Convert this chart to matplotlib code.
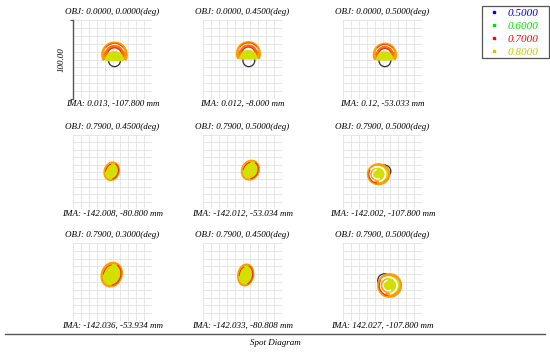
import numpy as np
import matplotlib
matplotlib.use('Agg')
import matplotlib.pyplot as plt
from matplotlib.patches import Wedge, Ellipse, Circle, Arc, Rectangle
from matplotlib.lines import Line2D

# ---------------- dados ----------------
obj_labels = ['OBJ: 0.0000, 0.0000(deg)', 'OBJ: 0.0000, 0.4500(deg)', 'OBJ: 0.0000, 0.5000(deg)',
              'OBJ: 0.7900, 0.4500(deg)', 'OBJ: 0.7900, 0.5000(deg)', 'OBJ: 0.7900, 0.5000(deg)',
              'OBJ: 0.7900, 0.3000(deg)', 'OBJ: 0.7900, 0.4500(deg)', 'OBJ: 0.7900, 0.5000(deg)']
ima_labels = ['IMA: 0.013, -107.800 mm', 'IMA: 0.012, -8.000 mm', 'IMA: 0.12, -53.033 mm',
              'IMA: -142.008, -80.800 mm', 'IMA: -142.012, -53.034 mm', 'IMA: -142.002, -107.800 mm',
              'IMA: -142.036, -53.934 mm', 'IMA: -142.033, -80.808 mm', 'IMA: 142.027, -107.800 mm']

# centro e tamanho do spot (micrometros, caixa de 100.00)
spot_x = [2.5, 7.5, 3.0, -1.0, 10.0, -5.0, -1.0, 4.0, 9.0]
spot_y = [6.0, 7.5, 6.0, 1.0, 2.5, -3.0, 9.5, 9.0, -4.5]
spot_rx = [16.0, 15.0, 14.5, 9.5, 11.0, 14.0, 13.0, 10.0, 15.0]
spot_ry = [16.0, 15.0, 14.5, 12.5, 13.5, 14.0, 16.0, 14.0, 15.0]
spot_ang = [0, 0, 0, -15, -20, 0, -20, -10, 0]
spot_tipo = ['dome', 'dome', 'dome', 'fill', 'fill', 'ring', 'fill', 'fill', 'ring']

# circulo de Airy
airy_x = [2.5, 8.0, 3.0, -1.0, 10.0, 2.0, -1.0, 4.0, 2.5]
airy_y = [-1.5, -1.5, -1.5, 1.0, 2.5, 1.0, 9.5, 9.0, 2.0]
airy_r = [7.5, 7.5, 7.5, 7.5, 7.5, 8.5, 7.5, 7.5, 8.5]

grade = [-50, -40, -30, -20, -10, 0, 10, 20, 30, 40, 50]

wl_labels = ['0.5000', '0.6000', '0.7000', '0.8000']
wl_cores = ['#0000ff', '#00e000', '#ff0000', '#c8c800']

# cores do spot
laranja = '#ff9a00'
laranja2 = '#ff6a10'
vermelho = '#ff2a00'
amarelo = '#d2e000'

plt.rcParams['font.family'] = ['Liberation Serif', 'DejaVu Serif']

W, H = 550, 352
fig = plt.figure(figsize=(W / 100, H / 100), dpi=100)

col_left = [73, 203, 343]
row_top = [20, 135, 243]
row_h = [79, 74, 78]
pw = 79


def desenha_spot(ax, i):
    cx, cy = spot_x[i], spot_y[i]
    rx, ry = spot_rx[i], spot_ry[i]
    ax.add_patch(Circle((airy_x[i], airy_y[i]), airy_r[i], fill=False, ec='#2a2a34', lw=0.9, zorder=2))
    if spot_tipo[i] == 'dome':
        ax.add_patch(Wedge((cx, cy), rx, -25, 205, width=0.24 * rx, color=laranja, zorder=3))
        ax.add_patch(Wedge((cx, cy), 0.74 * rx, -10, 190, width=0.16 * rx, color=laranja2, zorder=3))
        ax.add_patch(Arc((cx, cy), 1.1 * rx, 1.1 * rx, theta1=20, theta2=160, color=vermelho, lw=0.8, zorder=4))
        ax.add_patch(Wedge((cx, cy - 0.45 * rx), 0.7 * rx, 0, 180, color=amarelo, zorder=4))
        ax.add_patch(Arc((cx, cy), 1.62 * rx, 1.62 * rx, theta1=20, theta2=160, color='white', lw=0.6, zorder=4))
        ax.add_patch(Arc((cx, cy), 1.8 * rx, 1.8 * rx, theta1=40, theta2=140, color=vermelho, lw=0.5, zorder=4))
    elif spot_tipo[i] == 'fill':
        ax.add_patch(Ellipse((cx, cy), 2 * rx, 2 * ry, angle=spot_ang[i], color=laranja, zorder=3))
        ax.add_patch(Ellipse((cx, cy), 1.62 * rx, 1.62 * ry, angle=spot_ang[i], color=amarelo, zorder=4))
        ax.add_patch(Arc((cx, cy), 1.75 * rx, 1.75 * ry, angle=spot_ang[i], theta1=-70, theta2=80,
                         color=vermelho, lw=0.9, zorder=5))
        ax.add_patch(Arc((cx, cy), 1.6 * rx, 1.6 * ry, angle=spot_ang[i], theta1=110, theta2=200,
                         color=vermelho, lw=0.7, zorder=5))
    else:
        ax.add_patch(Ellipse((cx, cy), 2 * rx, 2 * ry, color=laranja, zorder=3))
        ax.add_patch(Ellipse((cx + 0.15 * rx, cy + 0.05 * ry), 1.3 * rx, 1.3 * ry, color=amarelo, zorder=4))
        ax.add_patch(Arc((cx - 0.1 * rx, cy), 1.45 * rx, 1.45 * ry, theta1=-80, theta2=250,
                         color='white', lw=1.3, zorder=5))
        ax.add_patch(Arc((cx - 0.1 * rx, cy), 0.9 * rx, 0.9 * ry, theta1=100, theta2=300,
                         color='white', lw=1.0, zorder=5))
        ax.add_patch(Arc((cx, cy), 1.75 * rx, 1.75 * ry, theta1=150, theta2=260,
                         color=vermelho, lw=0.8, zorder=5))


for i in range(9):
    r, c = divmod(i, 3)
    ax = fig.add_axes([col_left[c] / W, 1 - (row_top[r] + row_h[r]) / H, pw / W, row_h[r] / H])
    ax.set_xlim(-50, 50)
    ax.set_ylim(-50, 50)
    for g in grade:
        ax.axvline(g, color='#e2e2e2', lw=0.6, zorder=1)
        ax.axhline(g, color='#e2e2e2', lw=0.6, zorder=1)
    for s in ax.spines.values():
        s.set_visible(False)
    ax.set_xticks([])
    ax.set_yticks([])
    if i == 0:
        ax.spines['left'].set_visible(True)
        ax.spines['left'].set_color('#555555')
        ax.spines['left'].set_linewidth(1.0)
        ax.set_yticks([-50, 50])
        ax.set_yticklabels([])
        ax.tick_params(axis='y', length=2.5, width=0.8, color='#555555')
        ax.set_ylabel('100.00', fontsize=6.5, fontstyle='italic', labelpad=-1)
    desenha_spot(ax, i)
    ax.annotate(obj_labels[i], (0.5, 1.0), xycoords='axes fraction', xytext=(0, 6),
                textcoords='offset points', ha='center', va='center', fontsize=6.5,
                fontstyle='italic')
    ax.annotate(ima_labels[i], (0.5, 0.0), xycoords='axes fraction', xytext=(0, -3.5),
                textcoords='offset points', ha='center', va='center', fontsize=6.5,
                fontstyle='italic')

# legenda dos comprimentos de onda (moldura desenhada a parte)
fig.patches.append(Rectangle((482 / W, 1 - 58 / H), 67 / W, 52 / H, transform=fig.transFigure,
                             fill=False, edgecolor='#555555', linewidth=0.9, zorder=10))
handles = [Line2D([], [], ls='none', marker='s', ms=1.8, color=cor) for cor in wl_cores]
leg = fig.legend(handles, wl_labels, loc='upper left', bbox_to_anchor=(485 / W, 1 - 6 / H),
                 frameon=False, labelcolor=wl_cores,
                 prop={'style': 'italic', 'size': 8}, handlelength=1.2, handletextpad=0.6,
                 labelspacing=0.28, borderpad=0.2, borderaxespad=0)

# linha inferior e titulo
fig.add_artist(Line2D([5 / W, 545 / W], [1 - 334 / H] * 2, color='#555555', lw=1.0))
fig.text(0.5, 1 - 343 / H, 'Spot Diagram', ha='center', va='center', fontsize=6.5, fontstyle='italic')

plt.savefig('out.png', dpi=100)
